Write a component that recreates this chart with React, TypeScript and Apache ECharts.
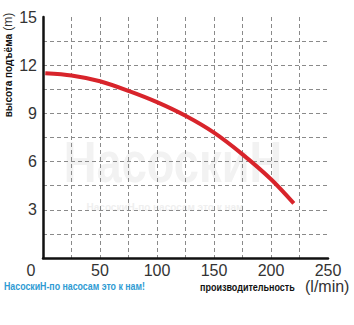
import React, { useEffect, useRef } from "react";
import * as echarts from "echarts";

const flow = [2, 25, 50, 75, 100, 125, 150, 175, 200, 220];
const head = [11.5, 11.36, 11.0, 10.4, 9.7, 8.85, 7.8, 6.45, 4.9, 3.4];

const xTitle = "производительность";
const xUnit = "(l/min)";
const yTitle = "высота подъёма";
const yUnit = "(m)";
const footer = "НасоскиН-по насосам это к нам!";
const watermark = "НасоскиН";
const watermarkSub = "НасоскиН-по насосам это к нам";

const FONT = "'Liberation Sans', Arial, sans-serif";

export default function App() {
  const ref = useRef<HTMLDivElement>(null);
  useEffect(() => {
    if (!ref.current) return;
    const chart = echarts.init(ref.current, null, { renderer: "svg" });
    const split = { show: true, showMaxLine: false, lineStyle: { color: "#8a8a8a", type: [4, 3], width: 1 } };
    chart.setOption({
      animation: false,
      backgroundColor: "#ffffff",
      grid: { left: 43, right: 26, top: 17, bottom: 67, containLabel: false },
      xAxis: {
        type: "value",
        min: 0,
        max: 250,
        interval: 25,
        axisLine: { show: true, lineStyle: { color: "#111", width: 2.5 } },
        axisTick: { show: false },
        axisLabel: {
          margin: 4,
          lineHeight: 16,
          color: "#333",
          fontSize: 16,
          fontFamily: FONT,
          formatter: (v: number) => (v === 0 ? "{z|0}" : v % 50 === 0 ? String(v) : ""),
          rich: { z: { fontSize: 16, lineHeight: 16, fontFamily: FONT, color: "#333", padding: [0, 24, 0, 0] } },
        },
        splitLine: split,
      },
      yAxis: {
        type: "value",
        min: 0,
        max: 15,
        interval: 1.5,
        axisLine: { show: true, onZero: false, lineStyle: { color: "#111", width: 2.5 } },
        axisTick: { show: false },
        axisLabel: {
          margin: 6,
          color: "#333",
          fontSize: 16,
          fontFamily: FONT,
          formatter: (v: number) => (v !== 0 && Math.abs(v / 3 - Math.round(v / 3)) < 1e-6 ? String(v) : ""),
        },
        splitLine: split,
      },
      graphic: [
        {
          type: "text",
          z: -10,
          x: 173,
          y: 162,
          scaleX: 0.78,
          style: {
            text: watermark,
            fontSize: 58,
            fontWeight: "bold",
            fontFamily: FONT,
            fill: "#f2f2f2",
            textAlign: "center",
            textVerticalAlign: "middle",
          },
        },
        {
          type: "text",
          z: -10,
          x: 165,
          y: 207,
          style: {
            text: watermarkSub,
            fontSize: 10,
            fontWeight: "bold",
            fontFamily: FONT,
            fill: "#efefef",
            textAlign: "center",
            textVerticalAlign: "middle",
          },
        },
        {
          type: "text",
          x: 4,
          y: 286,
          scaleX: 0.8,
          style: {
            text: footer,
            fontSize: 11,
            fontWeight: "bold",
            fontFamily: FONT,
            fill: "#2f9bd3",
            textAlign: "left",
            textVerticalAlign: "middle",
          },
        },
        {
          type: "text",
          x: 200,
          y: 287,
          scaleX: 0.9,
          style: {
            text: xTitle,
            fontSize: 10,
            fontWeight: "bold",
            fontFamily: FONT,
            fill: "#111",
            textAlign: "left",
            textVerticalAlign: "middle",
          },
        },
        {
          type: "text",
          x: 305,
          y: 286,
          style: {
            text: xUnit,
            fontSize: 16,
            fontFamily: FONT,
            fill: "#333",
            textAlign: "left",
            textVerticalAlign: "middle",
          },
        },
        {
          type: "text",
          x: 8,
          y: 65,
          rotation: Math.PI / 2,
          style: {
            text: "{b|" + yTitle + "} {m|" + yUnit + "}",
            textAlign: "center",
            textVerticalAlign: "middle",
            rich: {
              b: { fontSize: 10, fontWeight: "bold", fontFamily: FONT, fill: "#111" },
              m: { fontSize: 12, fontFamily: FONT, fill: "#333" },
            },
          },
        },
      ],
      series: [
        {
          type: "line",
          data: flow.map((x, i) => [x, head[i]]),
          smooth: 0.3,
          symbol: "none",
          lineStyle: { color: "#d8242b", width: 4 },
          z: 5,
        },
      ],
    });
    return () => chart.dispose();
  }, []);
  return <div ref={ref} style={{ position: "fixed", left: 0, top: 0, width: 354, height: 325 }} />;
}
